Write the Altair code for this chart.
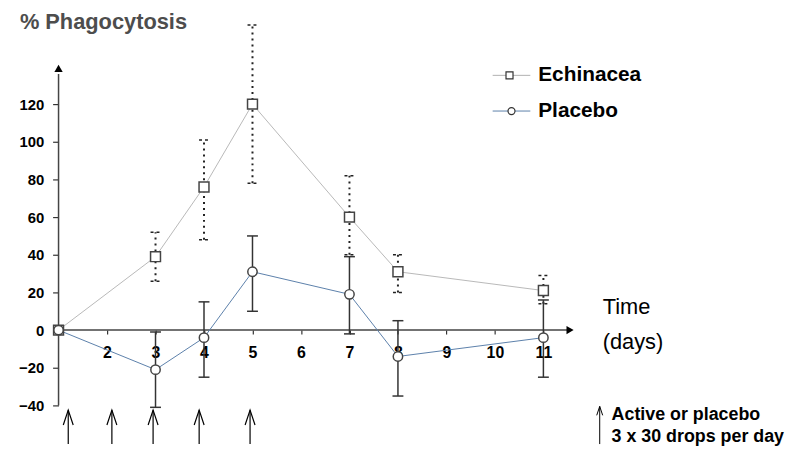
import altair as alt
import pandas as pd

# ---- data ----
days = [1, 3, 4, 5, 7, 8, 11]
ech_mean = [0, 39, 76, 120, 60, 31, 21]
ech_low = [None, 26, 48, 78, 40, 20, 14]
ech_high = [None, 52, 101, 162, 82, 40, 29]
plc_mean = [0, -21, -4, 31, 19, -14, -4]
plc_low = [None, -41, -25, 10, -2, -35, -25]
plc_high = [None, -1, 15, 50, 39, 5, 16]
dose_days = [1.2, 2.1, 2.95, 3.9, 4.95]
y_ticks = [-40, -20, 0, 20, 40, 60, 80, 100, 120]
x_ticks = [2, 3, 4, 5, 6, 7, 8, 9, 10, 11]
series = ["Echinacea", "Placebo"]
title_text = "% Phagocytosis"
time_text = ["Time", "(days)"]
note_text = ["Active or placebo", "3 x 30 drops per day"]

FONT = "Liberation Sans"

ech = pd.DataFrame({"day": days, "v": ech_mean, "low": ech_low, "high": ech_high})
plc = pd.DataFrame({"day": days, "v": plc_mean, "low": plc_low, "high": plc_high})
dose = pd.DataFrame({"day": dose_days})
one = pd.DataFrame({"k": [0]})

xs = alt.Scale(domain=[1, 15.8], nice=False, zero=False)
ys = alt.Scale(domain=[-60.5, 170], nice=False, zero=False)

x_axis = alt.Axis(values=x_ticks, domain=False, grid=False, offset=-115, tickSize=4,
                  tickColor="#333", tickWidth=1.2, labelFont=FONT, labelFontSize=16,
                  labelFontWeight="bold", labelColor="black", labelPadding=11,
                  title=None, format="d")
y_axis = alt.Axis(values=y_ticks, domain=False, grid=False, tickSize=6, tickColor="#333",
                  tickWidth=1.2, labelFont=FONT, labelFontSize=15, labelFontWeight="bold",
                  labelColor="black", labelPadding=9, title=None, format="d")


def X(field):
    return alt.X(field, type="quantitative", scale=xs, axis=x_axis)


def Y(field):
    return alt.Y(field, type="quantitative", scale=ys, axis=y_axis)


def XD(v):
    return alt.XDatum(v, type="quantitative", scale=xs, axis=x_axis)


def YD(v):
    return alt.YDatum(v, type="quantitative", scale=ys, axis=y_axis)


layers = []

# axes lines with arrow heads
layers.append(alt.Chart(one).mark_rule(color="#444", strokeWidth=1.5).encode(
    x=XD(1), x2=alt.X2Datum(11.5), y=YD(0)))
layers.append(alt.Chart(one).mark_point(shape="triangle-right", filled=True, color="black",
                                        size=70, opacity=1).encode(x=XD(11.55), y=YD(0)))
layers.append(alt.Chart(one).mark_rule(color="#444", strokeWidth=1.5).encode(
    x=XD(1), y=YD(-40), y2=alt.Y2Datum(136)))
layers.append(alt.Chart(one).mark_point(shape="triangle-up", filled=True, color="black",
                                        size=70, opacity=1).encode(x=XD(1), y=YD(139)))

# Echinacea
layers.append(alt.Chart(ech).mark_line(color="#b8b8b8", strokeWidth=1).encode(x=X("day"), y=Y("v")))
ech_err = alt.Chart(ech).transform_filter("isValid(datum.low)")
layers.append(ech_err.mark_rule(color="#222", strokeDash=[2, 4], strokeWidth=2).encode(
    x=X("day"), y=Y("low"), y2="high"))
for f in ["low", "high"]:
    layers.append(ech_err.mark_rule(color="#222", strokeDash=[3, 3], strokeWidth=1.5,
                                    xOffset=-5, x2Offset=5).encode(x=X("day"), x2="day", y=Y(f)))

# Placebo
layers.append(alt.Chart(plc).mark_line(color="#5b80aa", strokeWidth=1).encode(x=X("day"), y=Y("v")))
plc_err = alt.Chart(plc).transform_filter("isValid(datum.low)")
layers.append(plc_err.mark_rule(color="#333", strokeWidth=1.5).encode(
    x=X("day"), y=Y("low"), y2="high"))
for f in ["low", "high"]:
    layers.append(plc_err.mark_rule(color="#333", strokeWidth=1.5,
                                    xOffset=-5.5, x2Offset=5.5).encode(x=X("day"), x2="day", y=Y(f)))

# markers
layers.append(alt.Chart(ech).mark_point(shape="square", filled=True, fill="white", stroke="#444",
                                        strokeWidth=1.5, size=100, opacity=1).encode(x=X("day"), y=Y("v")))
layers.append(alt.Chart(plc).mark_point(shape="circle", filled=True, fill="white", stroke="#444",
                                        strokeWidth=1.5, size=90, opacity=1).encode(x=X("day"), y=Y("v")))

# dosing arrows
layers.append(alt.Chart(dose).mark_rule(color="black", strokeWidth=1.2).encode(
    x=X("day"), y=YD(-42.5), y2=alt.Y2Datum(-60.5)))
layers.append(alt.Chart(dose).mark_point(shape="M-1,3L0,0L1,3", filled=False, color="black",
                                         strokeWidth=1.2, size=100, opacity=1).encode(
    x=X("day"), y=YD(-42.5)))

# title
layers.append(alt.Chart(pd.DataFrame({"t": [title_text]})).mark_text(
    font=FONT, fontSize=22, fontWeight="bold", color="#4d4d4d", align="left", baseline="middle").encode(
    text="t:N", x=alt.value(-39), y=alt.value(12)))

# legend
leg = [(series[0], "square", "#b0b0b0", 66, 455), (series[1], "circle", "#5b80aa", 102, 457)]
for name, shp, col, py, mx in leg:
    d = alt.Chart(pd.DataFrame({"t": [name]}))
    layers.append(d.mark_rule(color=col, strokeWidth=1).encode(
        x=alt.value(438), x2=alt.value(476), y=alt.value(py)))
    layers.append(d.mark_point(shape=shp, filled=True, fill="white", stroke="#333", strokeWidth=1.2,
                               size=50, opacity=1).encode(x=alt.value(mx), y=alt.value(py)))
    layers.append(d.mark_text(font=FONT, fontSize=21, fontWeight="bold", color="black",
                              align="left", baseline="middle").encode(
        text="t:N", x=alt.value(484), y=alt.value(py)))

# Time (days)
for i, t in enumerate(time_text):
    layers.append(alt.Chart(pd.DataFrame({"t": [t]})).mark_text(
        font=FONT, fontSize=22, color="black", align="left", baseline="middle").encode(
        text="t:N", x=alt.value(549), y=alt.value(300 + 35 * i)))

# note with small arrow
nd = alt.Chart(one)
layers.append(nd.mark_rule(color="black", strokeWidth=1).encode(
    x=alt.value(546), y=alt.value(400), y2=alt.value(438)))
layers.append(nd.mark_point(shape="M-1,3L0,0L1,3", filled=False, color="black", strokeWidth=1,
                            size=36, opacity=1).encode(x=alt.value(546), y=alt.value(400)))
for i, t in enumerate(note_text):
    layers.append(alt.Chart(pd.DataFrame({"t": [t]})).mark_text(
        font=FONT, fontSize=18, fontWeight="bold", color="black", align="left",
        baseline="alphabetic").encode(text="t:N", x=alt.value(558), y=alt.value(414 + 22 * i)))

chart = alt.layer(*layers).properties(
    width=724, height=438,
    padding={"left": 51, "top": 0, "right": 14, "bottom": 0},
    autosize=alt.AutoSizeParams(type="none"),
    background="white",
).configure_view(stroke=None)

chart.save("out.html", embed_options={"renderer": "svg", "actions": False})
